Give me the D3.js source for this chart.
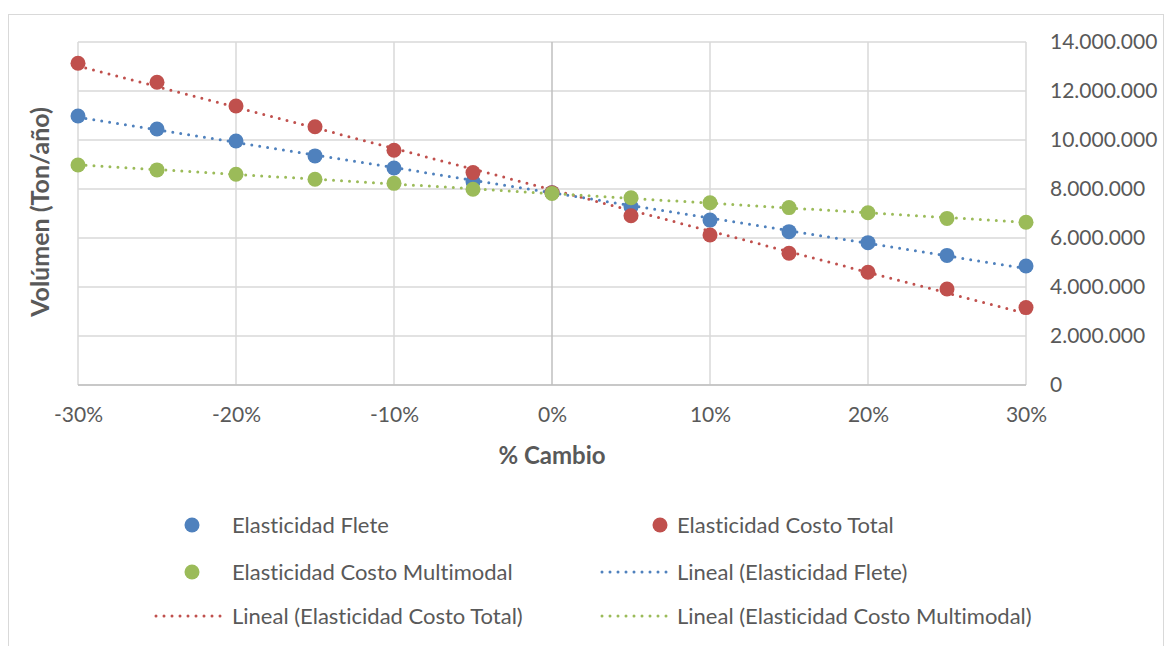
<!DOCTYPE html>
<html><head><meta charset="utf-8">
<script src="https://cdn.jsdelivr.net/npm/d3@7"></script>
<style>body{margin:0;background:#fff}svg{display:block}text{font-family:Lato,"Open Sans",sans-serif;fill:#595959;font-variant-ligatures:none;font-feature-settings:"liga" 0}</style>
</head><body><svg id="c" width="1165" height="646"></svg>
<script>
const changes = [-0.30,-0.25,-0.20,-0.15,-0.10,-0.05,0,0.05,0.10,0.15,0.20,0.25,0.30];
const flete = [10980000,10450000,9960000,9350000,8860000,8300000,7850000,7280000,6730000,6260000,5810000,5290000,4860000];
const costoTotal = [13130000,12360000,11390000,10540000,9580000,8670000,7850000,6910000,6120000,5380000,4600000,3920000,3160000];
const multimodal = [8980000,8780000,8600000,8400000,8230000,7990000,7820000,7640000,7440000,7240000,7030000,6800000,6640000];
const xTicks = [-0.3,-0.2,-0.1,0,0.1,0.2,0.3];
const yTicks = [0,2000000,4000000,6000000,8000000,10000000,12000000,14000000];
const seriesNames = ["Elasticidad Flete","Elasticidad Costo Total","Elasticidad Costo Multimodal"];
const colors = ["#4F81BD","#C0504D","#9BBB59"];
const allSeries = [flete,costoTotal,multimodal];

const svg = d3.select("#c");
svg.append("rect").attr("x",8.5).attr("y",14.5).attr("width",1155).attr("height",640).attr("fill","none").attr("stroke","#D9D9D9");

const x = d3.scaleLinear().domain([-0.3,0.3]).range([78,1026]);
const y = d3.scaleLinear().domain([0,14000000]).range([385,42]);

// gridlines
svg.append("g").selectAll("line").data(yTicks).join("line")
  .attr("x1",x(-0.3)).attr("x2",x(0.3)).attr("y1",d=>y(d)).attr("y2",d=>y(d))
  .attr("stroke","#D9D9D9").attr("stroke-width",1.5);
svg.append("g").selectAll("line").data(xTicks).join("line")
  .attr("x1",d=>x(d)).attr("x2",d=>x(d)).attr("y1",y(0)).attr("y2",y(14000000))
  .attr("stroke",d=>d===0?"#BFBFBF":"#D9D9D9").attr("stroke-width",1.5);
svg.append("line").attr("x1",x(-0.3)).attr("x2",x(0.3)).attr("y1",y(0)).attr("y2",y(0)).attr("stroke","#BFBFBF").attr("stroke-width",1.5);

// axes
const fmtY = d => d3.format(",")(d).replace(/,/g,".");
const fmtX = d => Math.round(d*100) + "%";
const yAxis = svg.append("g").attr("transform",`translate(${x(0.3)},0)`)
  .call(d3.axisRight(y).tickValues(yTicks).tickFormat(fmtY).tickSize(0).tickPadding(24));
yAxis.select(".domain").remove();
yAxis.selectAll("text").attr("font-size",21).attr("fill","#595959").attr("font-family","Lato");
const xAxis = svg.append("g").attr("transform",`translate(0,${y(0)})`)
  .call(d3.axisBottom(x).tickValues(xTicks).tickFormat(fmtX).tickSize(0).tickPadding(22));
xAxis.select(".domain").remove();
xAxis.selectAll("text").attr("font-size",21).attr("fill","#595959").attr("font-family","Lato");

svg.append("text").attr("x",552).attr("y",464).attr("text-anchor","middle").attr("font-size",24).attr("font-weight","bold").text("% Cambio");
svg.append("text").attr("transform","translate(40,212) rotate(-90)").attr("text-anchor","middle").attr("font-size",25).attr("font-weight","bold").attr("dy","0.35em").text("Volúmen (Ton/año)");

// trendlines (least squares)
function fit(vals){
  const mx=d3.mean(changes), my=d3.mean(vals);
  let sxy=0,sxx=0; changes.forEach((c,i)=>{sxy+=(c-mx)*(vals[i]-my);sxx+=(c-mx)*(c-mx);});
  const b=sxy/sxx, a=my-b*mx; return c=>a+b*c;
}
allSeries.forEach((vals,i)=>{
  const f=fit(vals);
  svg.append("line").attr("x1",x(-0.3)).attr("y1",y(f(-0.3))).attr("x2",x(0.3)).attr("y2",y(f(0.3)))
    .attr("stroke",colors[i]).attr("stroke-width",3).attr("stroke-dasharray","0 8").attr("stroke-linecap","round");
});
allSeries.forEach((vals,i)=>{
  svg.append("g").selectAll("circle").data(vals).join("circle")
    .attr("cx",(d,j)=>x(changes[j])).attr("cy",d=>y(d)).attr("r",7.5).attr("fill",colors[i]);
});

// legend
const leg = svg.append("g");
const items = [
  {t:"m",c:0,x:192,y:525,tx:232,label:seriesNames[0]},
  {t:"m",c:1,x:660,y:525,tx:677,label:seriesNames[1]},
  {t:"m",c:2,x:192,y:572,tx:232,label:seriesNames[2]},
  {t:"l",c:0,x:602,y:572,tx:677,label:"Lineal (Elasticidad Flete)"},
  {t:"l",c:1,x:156,y:616,tx:232,label:"Lineal (Elasticidad Costo Total)"},
  {t:"l",c:2,x:602,y:616,tx:677,label:"Lineal (Elasticidad Costo Multimodal)"}
];
items.forEach(it=>{
  if(it.t==="m") leg.append("circle").attr("cx",it.x).attr("cy",it.y).attr("r",7.5).attr("fill",colors[it.c]);
  else leg.append("line").attr("x1",it.x).attr("x2",it.x+72).attr("y1",it.y).attr("y2",it.y).attr("stroke",colors[it.c]).attr("stroke-width",3).attr("stroke-dasharray","0 8").attr("stroke-linecap","round");
  leg.append("text").attr("x",it.tx).attr("y",it.y).attr("dy","0.35em").attr("font-size",22).text(it.label);
});
</script></body></html>
